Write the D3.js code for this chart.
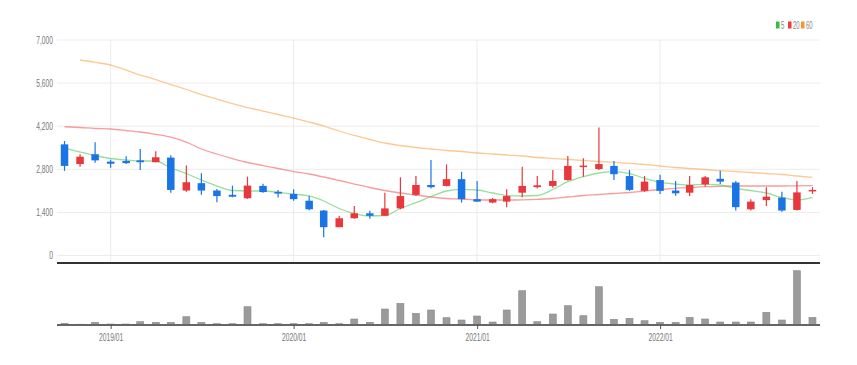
<!DOCTYPE html>
<html>
<head>
<meta charset="utf-8">
<script src="https://cdn.jsdelivr.net/npm/d3@7"></script>
<style>
  html, body { margin: 0; padding: 0; background: #fff; }
  svg { display: block; }
  text { font-family: "Liberation Sans", Arial, sans-serif; }
</style>
</head>
<body>
<svg id="chart" width="857" height="365"></svg>
<script>
// ---------------- DATA ----------------
const months = ["2018-10","2018-11","2018-12",
  "2019-01","2019-02","2019-03","2019-04","2019-05","2019-06","2019-07","2019-08","2019-09","2019-10","2019-11","2019-12",
  "2020-01","2020-02","2020-03","2020-04","2020-05","2020-06","2020-07","2020-08","2020-09","2020-10","2020-11","2020-12",
  "2021-01","2021-02","2021-03","2021-04","2021-05","2021-06","2021-07","2021-08","2021-09","2021-10","2021-11","2021-12",
  "2022-01","2022-02","2022-03","2022-04","2022-05","2022-06","2022-07","2022-08","2022-09","2022-10","2022-11"];

const openVals  = [3610,2970,3290, 3050,3070,3090,3030,3180,2110,2350,2110,1970,1860,2260,2070,
  2000,1780,1460,920,1210,1370,1290,1530,1970,2290,2260,2480,
  1830,1720,1750,2040,2220,2260,2450,2870,2810,2910,2580,2100,
  2450,2110,2040,2310,2490,2370,1500,1800,1880,1480,2100];
const highVals  = [3720,3290,3680, 3110,3220,3460,3390,3260,2920,2670,2160,2270,2560,2330,2130,
  2150,1930,1480,1280,1610,1450,2040,2540,2580,3100,2960,2720,
  2420,1870,2150,2880,2580,2780,3230,3160,4160,3070,2780,2580,
  2620,2420,2580,2580,2750,2420,1830,2220,2070,2420,2220];
const lowVals   = [2750,2880,3010, 2850,2970,2780,3030,2040,2070,1970,1730,1890,1840,2040,1880,
  1780,1470,590,920,1190,1190,1290,1500,1930,2180,2240,1720,
  1750,1700,1570,1890,2180,2200,2430,2560,2780,2450,2100,2070,
  2000,1940,1930,2240,2320,1460,1460,1610,1420,1460,2000];
const closeVals = [2910,3210,3090, 2980,3000,3030,3190,2130,2380,2110,1930,1910,2270,2060,2010,
  1830,1500,920,1210,1370,1290,1530,1930,2290,2220,2480,1830,
  1750,1830,1930,2260,2280,2420,2910,2920,2970,2640,2130,2400,
  2100,2020,2290,2540,2400,1570,1750,1910,1460,2050,2130];

const ma5  = [3490,3362,3248, 3151,3102,3069,3069,2842,2663,2452,2257,2111,2095,2095,2053,
  1997,1933,1770,1527,1364,1283,1299,1527,1715,1916,2095,2150,
  2127,2030,1949,1933,1949,2144,2397,2566,2680,2722,2663,2507,
  2378,2322,2290,2313,2290,2176,2111,2030,1884,1803,1890];
const ma20 = [4183,4157,4125, 4109,4060,4011,3937,3849,3686,3459,3297,3150,3021,2923,2826,
  2728,2647,2550,2436,2322,2209,2111,2030,1965,1900,1851,1835,
  1803,1803,1803,1809,1825,1851,1900,1949,1981,2014,2046,2095,
  2144,2183,2209,2235,2248,2257,2257,2257,2257,2264,2267];
const ma60 = [null,6350,6275, 6187,6025,5862,5716,5554,5392,5229,5083,4937,4807,4693,4580,
  4466,4336,4206,4044,3898,3768,3654,3573,3508,3459,3410,3378,
  3329,3297,3264,3232,3183,3150,3118,3086,3053,3027,2995,2956,
  2907,2858,2826,2793,2754,2728,2696,2663,2631,2582,2540];

const volumes = [17,8,27, 10,10,33,27,27,83,27,13,13,183,13,13,
  13,13,27,13,60,27,160,217,117,150,73,50,
  90,30,150,343,33,110,193,93,383,57,67,43,
  27,27,77,60,30,30,30,127,50,543,77];

const yTicks = [0,1400,2800,4200,5600,7000];
const xTickMonths = ["2019-01","2020-01","2021-01","2022-01"];
const legendLabels = ["5","20","60"];
const legendColors = ["#2fbf3a","#ef3b3b","#f7962a"];

// ---------------- LAYOUT ----------------
const svg = d3.select("#chart");
const parse = d3.timeParse("%Y-%m");
const dates = months.map(parse);
const SQ = 0.64; // horizontal text squeeze

const x = d3.scaleTime()
  .domain([new Date(2018, 8, 16), new Date(2022, 10, 16)])
  .range([57, 820]);
const y = d3.scaleLinear().domain([0, 7000]).range([255.5, 40]);
const yv = d3.scaleLinear().domain([0, 560]).range([325, 269]);

function squeeze(sel, f) {
  sel.each(function() {
    const l = this.getComputedTextLength();
    this.setAttribute("textLength", l * f);
    this.setAttribute("lengthAdjust", "spacingAndGlyphs");
  });
}

// grid
const grid = svg.append("g");
grid.selectAll("line.h").data(yTicks).join("line")
  .attr("x1", 57).attr("x2", 820)
  .attr("y1", d => y(d)).attr("y2", d => y(d))
  .attr("stroke", "#ececec").attr("stroke-width", 1);
grid.selectAll("line.v").data(xTickMonths.map(parse)).join("line")
  .attr("x1", d => x(d)).attr("x2", d => x(d))
  .attr("y1", 40).attr("y2", 262)
  .attr("stroke", "#ececec").attr("stroke-width", 1);

// y axis
const yAxis = svg.append("g").attr("transform", "translate(57,0)")
  .call(d3.axisLeft(y).tickValues(yTicks).tickFormat(d3.format(",")).tickSize(0).tickPadding(4));
yAxis.select(".domain").remove();
yAxis.selectAll("text").attr("fill", "#777").attr("font-size", "10.5px")
  .attr("font-family", "Liberation Sans, Arial, sans-serif");
squeeze(yAxis.selectAll("text"), SQ);

// moving averages
const line = d3.line()
  .defined(d => d[1] != null)
  .x(d => x(d[0])).y(d => y(d[1]))
  .curve(d3.curveMonotoneX);
const maSets = [[ma60, "#f7962a"], [ma20, "#ef3b3b"], [ma5, "#2fbf3a"]];
maSets.forEach(([arr, col]) => {
  svg.append("path")
    .attr("d", line(dates.map((d, i) => [d, arr[i]])))
    .attr("fill", "none").attr("stroke", col)
    .attr("stroke-opacity", 0.5).attr("stroke-width", 1.3);
});

// candles
const upCol = "#e8373d", downCol = "#1a74e6";
const bw = 7.5;
const cg = svg.append("g");
const idx = d3.range(months.length);
cg.selectAll("line.wick").data(idx).join("line")
  .attr("x1", i => x(dates[i])).attr("x2", i => x(dates[i]))
  .attr("y1", i => y(highVals[i])).attr("y2", i => y(lowVals[i]))
  .attr("stroke", i => closeVals[i] >= openVals[i] ? upCol : downCol)
  .attr("stroke-width", 1.2);
cg.selectAll("rect.body").data(idx).join("rect")
  .attr("x", i => x(dates[i]) - bw / 2).attr("width", bw)
  .attr("y", i => y(Math.max(openVals[i], closeVals[i])))
  .attr("height", i => Math.max(1.5, Math.abs(y(openVals[i]) - y(closeVals[i]))))
  .attr("fill", i => closeVals[i] >= openVals[i] ? upCol : downCol);

// separator line
svg.append("line").attr("x1", 57).attr("x2", 820).attr("y1", 263).attr("y2", 263)
  .attr("stroke", "#333").attr("stroke-width", 2);

// volume
svg.append("g").selectAll("rect").data(idx).join("rect")
  .attr("x", i => x(dates[i]) - 3.5).attr("width", 7)
  .attr("y", i => yv(volumes[i]))
  .attr("height", i => yv(0) - yv(volumes[i]))
  .attr("fill", "#9b9b9b").attr("stroke", "#8a8a8a").attr("stroke-width", 0.6);

const xAxis = svg.append("g").attr("transform", "translate(0,325)")
  .call(d3.axisBottom(x).tickValues(xTickMonths.map(parse))
    .tickFormat(d3.timeFormat("%Y/%m")).tickSize(4).tickPadding(5));
xAxis.select(".domain").attr("stroke", "#666").attr("stroke-width", 1.8)
  .attr("d", "M57,0H820");
xAxis.selectAll(".tick line").attr("stroke", "#555");
xAxis.selectAll("text").attr("fill", "#777").attr("font-size", "10.5px")
  .attr("font-family", "Liberation Sans, Arial, sans-serif");
squeeze(xAxis.selectAll("text"), SQ);

// legend
const lg = svg.append("g");
let lx = 776;
legendLabels.forEach((lab, i) => {
  lg.append("rect").attr("x", lx).attr("y", 21.5).attr("width", 3.5).attr("height", 7)
    .attr("fill", legendColors[i]);
  const t = lg.append("text").attr("x", lx + 5).attr("y", 29)
    .attr("font-size", "10px").attr("fill", "#888").text(lab);
  squeeze(t, 0.6);
  lx += 5 + t.node().getComputedTextLength() * 0.6 + 4 + (lab.length > 1 ? 0 : 1);
});
</script>
</body>
</html>
